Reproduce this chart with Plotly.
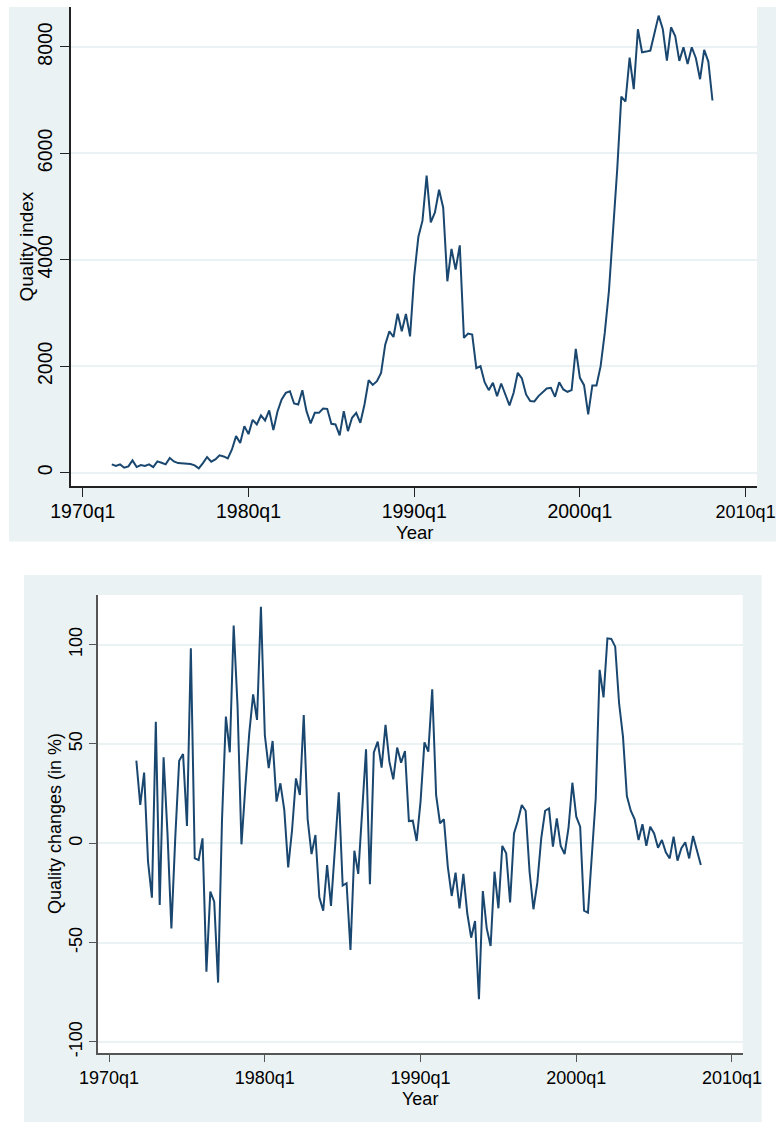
import pandas as pd
import plotly.graph_objects as go

# Quarterly observations, 1971q4 - 2008q1
quarters = pd.period_range("1971Q4", "2008Q1", freq="Q")

quality_index = [
    156, 125, 156, 94, 119, 231, 106, 144, 125, 156,
    106, 212, 187, 156, 275, 212, 181, 175, 156, 162,
    137, 81, 181, 294, 206, 250, 325, 306, 269, 437,
    687, 556, 875, 725, 994, 906, 1075, 981, 1169, 800,
    1150, 1375, 1500, 1531, 1300, 1281, 1550, 1156, 925, 1125,
    1125, 1206, 1200, 919, 906, 700, 1156, 781, 1031, 1125,
    937, 1281, 1737, 1650, 1719, 1875, 2406, 2656, 2550, 2987,
    2656, 2981, 2562, 3700, 4428, 4735, 5580, 4704, 4891, 5317,
    4979, 3597, 4203, 3816, 4272, 2533, 2615, 2596, 1964, 2002,
    1701, 1551, 1689, 1439, 1676, 1470, 1264, 1501, 1877, 1770,
    1470, 1345, 1339, 1439, 1520, 1583, 1595, 1426, 1701, 1564,
    1520, 1551, 2327, 1783, 1645, 1095, 1639, 1639, 2002, 2627,
    3409, 4566, 5692, 7068, 6974, 7800, 7206, 8332, 7900, 7912,
    7931, 8257, 8588, 8338, 7744, 8369, 8206, 7737, 7994, 7681,
    7994, 7787, 7393, 7944, 7725, 6993,
]

quality_changes = [
    41.6, 19.3, 35.6, -9.2, -27.4, 61.2, -31.0, 43.3, 5.0, -42.8,
    3.0, 41.6, 45.0, 8.7, 98.2, -7.6, -8.4, 2.5, -64.6, -24.3,
    -29.4, -70.1, 11.7, 63.8, 45.8, 109.6, 68.8, -0.5, 28.5, 55.4,
    75.0, 62.1, 119.1, 54.5, 37.8, 51.5, 21.0, 30.2, 16.8, -12.1,
    6.7, 32.7, 24.3, 64.6, 12.1, -5.4, 4.2, -27.2, -33.9, -10.9,
    -31.5, 0.0, 25.7, -21.3, -20.1, -53.7, -3.7, -15.4, 13.4, 47.3,
    -20.6, 45.8, 51.2, 38.1, 59.6, 41.1, 32.2, 48.2, 40.6, 46.5,
    11.2, 11.4, 1.2, 21.0, 50.8, 46.1, 77.5, 24.3, 10.1, 12.1,
    -11.7, -26.5, -14.8, -32.7, -15.4, -35.2, -47.5, -39.1, -78.5, -24.0,
    -42.8, -51.7, -14.3, -32.7, -1.3, -5.0, -29.7, 5.0, 11.4, 19.3,
    16.4, -14.3, -33.2, -19.8, 2.5, 16.4, 17.6, -1.7, 12.6, -1.3,
    -5.4, 7.6, 30.5, 13.4, 8.4, -33.9, -34.9, -5.0, 22.7, 87.3,
    73.5, 103.2, 102.9, 99.0, 70.5, 53.7, 23.8, 16.4, 12.1, 1.7,
    9.6, -1.2, 8.4, 5.0, -2.2, 1.7, -4.5, -7.6, 3.4, -8.7,
    -2.5, 0.5, -7.6, 3.7, -3.4, -10.9,
]

# axis ticks
tick_labels = ["1970q1", "1980q1", "1990q1", "2000q1", "2010q1"]
index_ticks = [0, 2000, 4000, 6000, 8000]
change_ticks = [-100, -50, 0, 50, 100]

# Stata-style quarterly date numbers (1960q1 = 0)
def tq(p):
    return (p.year - 1960) * 4 + (p.quarter - 1)

x = [tq(p) for p in quarters]
tick_vals = [tq(pd.Period(s.replace("q", "Q"), freq="Q")) for s in tick_labels]

W, H = 776, 1122
NAVY = "#1a476f"
REGION = "#eaf2f3"
FONT = "Liberation Sans, Arial, Helvetica, sans-serif"


def px_x(v):
    return v / W


def px_y(v):
    return 1 - v / H


fig = go.Figure()
fig.add_trace(go.Scatter(x=x, y=quality_index, mode="lines",
                         line=dict(color=NAVY, width=2),
                         xaxis="x", yaxis="y", showlegend=False))
fig.add_trace(go.Scatter(x=x, y=quality_changes, mode="lines",
                         line=dict(color=NAVY, width=2),
                         xaxis="x2", yaxis="y2", showlegend=False))

# plot areas in pixels: (left, right, top, bottom)
top_box = (71, 757, 7, 486)
bot_box = (98, 742.7, 595, 1053.3)

# the top panel's last label sits against the page edge; keep it inside
top_tick_text = tick_labels[:-1] + [
    '<span style="font-size:18px">%s</span>' % tick_labels[-1]]


def xaxis_cfg(box, size, linecol, anchor, ticklen, standoff, text):
    return dict(domain=[px_x(box[0]), px_x(box[1])], range=[37.15, 202.75],
                anchor=anchor, automargin=False, tickmode="array",
                tickvals=tick_vals, ticktext=text, ticks="outside",
                ticklen=ticklen, tickwidth=1.3, tickcolor=linecol,
                showline=True, linecolor=linecol, linewidth=1.5,
                showgrid=False, zeroline=False, ticklabeloverflow="allow",
                ticklabelstandoff=standoff,
                tickfont=dict(family=FONT, size=size, color="black"))


def yaxis_cfg(box, rng, ticks, size, linecol, anchor, ticklen, standoff):
    return dict(domain=[px_y(box[3]), px_y(box[2])], range=rng, anchor=anchor,
                automargin=False, tickmode="array", tickvals=ticks,
                ticktext=[str(t) for t in ticks], ticks="outside",
                ticklen=ticklen, tickwidth=1.3, tickcolor=linecol,
                showline=True, linecolor=linecol, linewidth=1.5,
                showgrid=True, gridcolor=REGION, gridwidth=1.5,
                zeroline=False, tickangle=-90, ticklabelstandoff=standoff,
                tickfont=dict(family=FONT, size=size, color="black"))


shapes = [
    # graph regions
    dict(type="rect", xref="paper", yref="paper", layer="below",
         x0=px_x(9), x1=1, y0=px_y(541.5), y1=px_y(7),
         fillcolor=REGION, line=dict(width=0)),
    dict(type="rect", xref="paper", yref="paper", layer="below",
         x0=px_x(24), x1=px_x(761.7), y0=0, y1=px_y(575),
         fillcolor=REGION, line=dict(width=0)),
    # plot regions
    dict(type="rect", xref="paper", yref="paper", layer="below",
         x0=px_x(top_box[0]), x1=px_x(top_box[1]),
         y0=px_y(top_box[3]), y1=px_y(top_box[2]),
         fillcolor="white", line=dict(width=0)),
    dict(type="rect", xref="paper", yref="paper", layer="below",
         x0=px_x(bot_box[0]), x1=px_x(bot_box[1]),
         y0=px_y(bot_box[3]), y1=px_y(bot_box[2]),
         fillcolor="white", line=dict(width=0)),
]


def title(text, cx, cy, size, angle=0):
    return dict(text=text, x=px_x(cx), y=px_y(cy), xref="paper", yref="paper",
                xanchor="center", yanchor="middle", showarrow=False,
                textangle=angle, font=dict(family=FONT, size=size, color="black"))


annotations = [
    title("Year", 414, 532.5, 18.5),
    title("Quality index", 26, 246.5, 19, -90),
    title("Year", 420.5, 1098.5, 18),
    title("Quality changes (in %)", 55, 824, 18, -90),
]

fig.update_layout(
    width=W, height=H,
    margin=dict(l=0, r=0, t=0, b=0, autoexpand=False),
    paper_bgcolor="white", plot_bgcolor="white",
    xaxis=xaxis_cfg(top_box, 19.5, "#222222", "y", 9, -2, top_tick_text),
    yaxis=yaxis_cfg(top_box, [-250, 8750], index_ticks, 19.5, "#222222",
                    "x", 9, 0),
    xaxis2=xaxis_cfg(bot_box, 18, "#555555", "y2", 7, 0, tick_labels),
    yaxis2=yaxis_cfg(bot_box, [-105.7, 125], change_ticks, 18, "#555555",
                     "x2", 7, 0),
    shapes=shapes, annotations=annotations,
    showlegend=False,
)

fig.write_html("out.html")
